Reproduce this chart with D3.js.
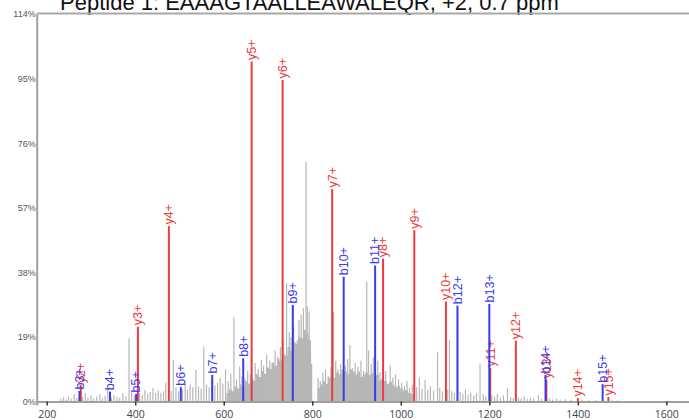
<!DOCTYPE html>
<html>
<head>
<meta charset="utf-8">
<script src="https://cdn.jsdelivr.net/npm/d3@7"></script>
<style>
  html, body { margin: 0; padding: 0; background: #fff; }
  svg { display: block; }
</style>
</head>
<body>
<svg id="chart" width="689" height="420"></svg>
<script>
// Spectrum title
const titleText = "Peptide 1: EAAAGTAALLEAWALEQR, +2, 0.7 ppm";

// Axis ticks
const xTicks = [200, 400, 600, 800, 1000, 1200, 1400, 1600];
const yTicks = [0, 19, 38, 57, 76, 95, 114];

// Matched b ions (m/z, relative intensity %)
const bLabels = ["b3+", "b4+", "b5+", "b6+", "b7+", "b8+", "b9+", "b10+", "b11+", "b12+", "b13+", "b14+", "b15+"];
const bMz     = [274, 343, 402, 503, 574, 644, 756, 871, 942, 1128, 1200, 1327, 1456];
const bPct    = [3.1, 2.9, 2.2, 4.2, 7.8, 12.7, 28.4, 36.7, 40.0, 28.2, 28.7, 7.8, 5.1];

// Matched y ions (m/z, relative intensity %)
const yLabels = ["y2+", "y3+", "y4+", "y5+", "y6+", "y7+", "y8+", "y9+", "y10+", "y11+", "y12+", "y13+", "y14+", "y15+"];
const yMz     = [277, 406, 476, 663, 733, 845, 960, 1030.5, 1102, 1202, 1260, 1329, 1400, 1469];
const yPct    = [4.9, 22.0, 51.6, 100.0, 94.6, 62.5, 42.0, 50.4, 29.4, 9.8, 17.9, 6.3, 1.0, 1.3];

// Unassigned peaks (m/z, relative intensity %)
const greyMz = [232,238,244,249,255,262,268,281,287,293,300,306,313,320,326,332,338,346,352,359,365,372,379,386,392,398,
  410,416,422,428,434,440,446,452,458,464,469,481,486,492,498,507,513,518,524,530,537,543,549,555,561,567,573,580,586,592,598,
  604,610,616,623,629,636,641,648,654,660,671,678,685,690,697,704,710,716,722,728,734,742,748,752,758,766,770,775,780,786,789,
  793,796,813,818,824,830,836,842,848,853,858,864,875,880,885,891,897,903,910,916,923,927,933,938,948,953,966,976,982,988,995,
  1002,1008,1014,1020,1026,1036,1042,1048,1055,1061,1067,1074,1083,1088,1094,1106,1110,1115,1121,1134,1140,1146,1152,1158,1165,
  1171,1179,1186,1192,1206,1212,1218,1225,1232,1241,1248,1254,1266,1272,1279,1286,1293,1300,1311,1318,1336,1343,1352,1360,1372,
  1385,1410,1425,1440,1478,1490];
const greyPct = [0.8,1.2,0.6,1.5,0.9,2.1,1.0,1.4,2.6,1.1,1.8,0.9,1.5,2.2,1.0,1.7,3.6,1.2,2.0,1.4,1.1,2.5,1.6,18.6,3.0,1.8,
  2.5,1.9,3.4,2.2,2.8,4.0,2.5,3.3,2.6,3.0,5.5,3.1,12.2,4.2,3.0,3.6,6.0,3.5,5.0,4.2,9.3,4.4,3.8,16.1,5.0,4.2,6.3,4.8,5.5,7.0,5.2,
  9.5,6.0,8.2,24.8,6.5,10.2,7.4,6.8,9.0,8.0,11.3,9.6,12.2,10.5,13.8,12.0,11.0,15.0,13.2,16.0,18.0,34.8,20.5,19.0,22.0,18.0,24.0,25.5,27.5,70.5,28.0,
  26.5,15.0,7.0,6.0,8.5,9.5,7.5,10.0,26.4,12.0,9.5,11.0,10.5,12.5,16.6,9.8,11.5,10.2,12.0,9.0,35.2,15.0,11.0,13.0,12.0,8.5,9.0,10.7,7.0,8.0,6.5,
  5.5,4.5,6.0,4.0,5.0,4.2,7.0,3.8,6.3,3.5,4.5,3.2,14.5,4.0,3.0,3.5,18.2,3.0,2.5,2.8,2.2,3.5,2.0,2.6,1.8,
  2.4,11.2,2.2,1.6,1.8,1.4,2.2,1.2,1.8,3.9,1.3,1.0,1.2,0.9,1.4,0.8,1.1,0.9,1.9,0.8,0.9,0.6,0.8,0.5,0.7,
  0.5,0.6,0.4,0.5,0.4,0.3];

// Dense unresolved background (m/z, relative intensity %)
const bgMz  = [600,606,612,618,624,630,636,642,648,654,660,666,672,678,684,690,696,702,708,714,720,726,732,738,744,750,756,762,768,774,780,786,792,797,800,
  808,812,818,824,830,836,842,848,854,860,866,872,878,884,890,896,902,908,914,920,926,932,938,944,950,956,962,968,974,980,986,992,998,1004,1010,1016,1022,1030];
const bgPct = [0,2.5,3.5,3,4.5,3.8,5,4.2,6,5.2,7,6.2,8,7.2,9,8.2,10,9.5,11.5,10.5,12.5,12,14,13.5,16,15,17.5,17,19,18.5,21,20,18,11,0,
  0,4,5,6,5.2,7,7.8,7,8.5,8,9.5,8.8,8,9.5,8.8,8,8.8,7.2,8,8.6,7.8,8.4,7,7.8,6.2,6.8,6,5.2,5.8,4.8,4.2,4.6,3.8,3.2,3.4,2.6,2.2,0];

const svg = d3.select("#chart");

const x = d3.scaleLinear().domain([177.4, 1676]).range([36.7, 700]);
const y = d3.scaleLinear().domain([0, 114]).range([401.5, 14]);

const RED = "#ee3a3a";
const BLUE = "#3a3aee";
const GREY = "#b7b7b7";

// Title (partly above the frame)
svg.append("text")
  .attr("x", 60)
  .attr("y", 10)
  .attr("font-family", "Liberation Sans, Arial, sans-serif")
  .attr("font-size", 22)
  .attr("fill", "#111")
  .text(titleText);

// Background hump
const bg = bgMz.map((m, i) => [m, bgPct[i]]);
svg.append("path")
  .datum(bg)
  .attr("fill", GREY)
  .attr("d", d3.area().x(d => x(d[0])).y0(y(0)).y1(d => y(d[1])).curve(d3.curveStepAfter));

// Unassigned peaks
svg.append("g")
  .selectAll("line")
  .data(greyMz.map((m, i) => [m, greyPct[i]]))
  .join("line")
  .attr("x1", d => x(d[0])).attr("x2", d => x(d[0]))
  .attr("y1", y(0)).attr("y2", d => y(d[1]))
  .attr("stroke", GREY)
  .attr("stroke-width", 1.2);

// Annotated fragment ions
function drawIons(labels, mz, pct, color) {
  const data = labels.map((l, i) => ({ label: l, mz: mz[i], pct: pct[i] }));
  const g = svg.append("g");
  g.selectAll("line")
    .data(data)
    .join("line")
    .attr("x1", d => x(d.mz)).attr("x2", d => x(d.mz))
    .attr("y1", y(0)).attr("y2", d => y(d.pct))
    .attr("stroke", color)
    .attr("stroke-width", 2);
  g.selectAll("text")
    .data(data)
    .join("text")
    .attr("transform", d => `translate(${x(d.mz)},${y(d.pct) - 1.5}) rotate(-90)`)
    .attr("dy", "0.35em")
    .attr("font-family", "Liberation Sans, Arial, sans-serif")
    .attr("font-size", 12.5)
    .attr("fill", color)
    .text(d => d.label);
}
drawIons(yLabels, yMz, yPct, RED);
drawIons(bLabels, bMz, bPct, BLUE);

// Frame: top rule, left and bottom axes
svg.append("line")
  .attr("x1", 36.7).attr("x2", 689).attr("y1", 13.5).attr("y2", 13.5)
  .attr("stroke", "#a8a8a8").attr("stroke-width", 2);

const yAxis = svg.append("g")
  .attr("transform", "translate(36.7,0)")
  .call(d3.axisLeft(y).tickValues(yTicks).tickSize(0).tickPadding(1).tickFormat(d => d + "%"));
yAxis.select(".domain").attr("stroke", "#a0a0a0").attr("stroke-width", 2);
yAxis.selectAll("text")
  .attr("font-family", "Liberation Sans, Arial, sans-serif")
  .attr("font-size", 9)
  .attr("fill", "#555");

const xAxis = svg.append("g")
  .attr("transform", "translate(0,401.5)")
  .call(d3.axisBottom(x).tickValues(xTicks).tickSize(4).tickPadding(5).tickFormat(d3.format("d")));
xAxis.select(".domain").attr("stroke", "#a0a0a0").attr("stroke-width", 2);
xAxis.selectAll(".tick line").attr("stroke", "#333").attr("stroke-width", 1.5);
xAxis.selectAll("text")
  .attr("font-family", "Open Sans, Liberation Sans, sans-serif")
  .attr("font-size", 10.5)
  .attr("fill", "#444");
</script>
</body>
</html>
